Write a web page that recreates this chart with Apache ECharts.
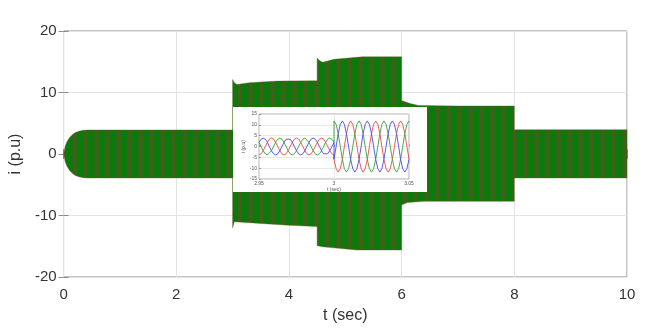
<!DOCTYPE html>
<html><head><meta charset="utf-8">
<script src="https://cdn.jsdelivr.net/npm/echarts@6/dist/echarts.min.js"></script>
<style>html,body{margin:0;padding:0;background:#fff}#c{width:648px;height:334px}</style>
</head><body><div id="c"></div>
<script>
// ---- Main plot: envelope of the dense three-phase current band
const upperTime = [0, 0.03, 0.06, 0.1, 0.15, 0.2, 0.27, 0.35, 0.42, 3.0, 3.0, 3.03, 3.08, 3.3, 3.8, 4.5, 4.5, 4.54, 4.6, 4.8, 5.3, 6.0, 6.0, 6.06, 6.15, 6.3, 7.0, 8.0, 8.0, 10.0];
const upperVal  = [0, 1.3, 2.0, 2.6, 3.1, 3.45, 3.7, 3.85, 3.9, 3.9, 12.1, 11.6, 11.3, 11.6, 11.85, 11.9, 15.6, 15.2, 14.9, 15.4, 15.8, 15.8, 8.7, 8.5, 8.2, 7.9, 7.8, 7.8, 3.95, 3.95];
const lowerTime = [0, 0.03, 0.06, 0.1, 0.15, 0.2, 0.27, 0.35, 0.42, 3.0, 3.0, 3.03, 3.5, 4.0, 4.5, 4.5, 4.6, 5.2, 6.0, 6.0, 6.1, 6.4, 8.0, 8.0, 10.0];
const lowerVal  = [0, -1.3, -2.0, -2.6, -3.1, -3.45, -3.7, -3.85, -3.9, -3.9, -12.0, -11.0, -11.3, -11.6, -11.8, -14.9, -15.1, -15.6, -15.6, -8.3, -7.9, -7.7, -7.7, -3.9, -3.9];
const xTicks = [0, 2, 4, 6, 8, 10];
const yTicks = [-20, -10, 0, 10, 20];

// ---- Inset: zoom on the step at t = 3 s
const insetTime = [2.95, 2.9514, 2.9528, 2.9542, 2.9556, 2.9569, 2.9583, 2.9597, 2.9611, 2.9625, 2.9639, 2.9653,
  2.9667, 2.9681, 2.9694, 2.9708, 2.9722, 2.9736, 2.975, 2.9764, 2.9778, 2.9792, 2.9806, 2.9819,
  2.9833, 2.9847, 2.9861, 2.9875, 2.9889, 2.9903, 2.9917, 2.9931, 2.9944, 2.9958, 2.9972, 2.9986, 3.0,
  3.0, 3.0014, 3.0028, 3.0042, 3.0056, 3.0069, 3.0083, 3.0097, 3.0111, 3.0125, 3.0139, 3.0153,
  3.0167, 3.0181, 3.0194, 3.0208, 3.0222, 3.0236, 3.025, 3.0264, 3.0278, 3.0292, 3.0306, 3.0319,
  3.0333, 3.0347, 3.0361, 3.0375, 3.0389, 3.0403, 3.0417, 3.0431, 3.0444, 3.0458, 3.0472, 3.0486, 3.05];
const insetRed = [-3.9, -3.38, -1.95, 0, 1.95, 3.38, 3.9, 3.38, 1.95, 0, -1.95, -3.38,
  -3.9, -3.38, -1.95, 0, 1.95, 3.38, 3.9, 3.38, 1.95, 0, -1.95, -3.38,
  -3.9, -3.38, -1.95, 0, 1.95, 3.38, 3.9, 3.38, 1.95, 0, -1.95, -3.38, -3.9,
  -5.9, -10.22, -11.8, -10.22, -5.9, 0, 5.9, 10.22, 11.8, 10.22, 5.9, 0,
  -5.9, -10.22, -11.8, -10.22, -5.9, 0, 5.9, 10.22, 11.8, 10.22, 5.9, 0,
  -5.9, -10.22, -11.8, -10.22, -5.9, 0, 5.9, 10.22, 11.8, 10.22, 5.9, 0, -5.9];
const insetGreen = [1.95, 0, -1.95, -3.38, -3.9, -3.38, -1.95, 0, 1.95, 3.38, 3.9, 3.38,
  1.95, 0, -1.95, -3.38, -3.9, -3.38, -1.95, 0, 1.95, 3.38, 3.9, 3.38,
  1.95, 0, -1.95, -3.38, -3.9, -3.38, -1.95, 0, 1.95, 3.38, 3.9, 3.38, 1.95,
  11.8, 10.22, 5.9, 0, -5.9, -10.22, -11.8, -10.22, -5.9, 0, 5.9, 10.22,
  11.8, 10.22, 5.9, 0, -5.9, -10.22, -11.8, -10.22, -5.9, 0, 5.9, 10.22,
  11.8, 10.22, 5.9, 0, -5.9, -10.22, -11.8, -10.22, -5.9, 0, 5.9, 10.22, 11.8];
const insetBlue = [1.95, 3.38, 3.9, 3.38, 1.95, 0, -1.95, -3.38, -3.9, -3.38, -1.95, 0,
  1.95, 3.38, 3.9, 3.38, 1.95, 0, -1.95, -3.38, -3.9, -3.38, -1.95, 0,
  1.95, 3.38, 3.9, 3.38, 1.95, 0, -1.95, -3.38, -3.9, -3.38, -1.95, 0, 1.95,
  -5.9, 0, 5.9, 10.22, 11.8, 10.22, 5.9, 0, -5.9, -10.22, -11.8, -10.22,
  -5.9, 0, 5.9, 10.22, 11.8, 10.22, 5.9, 0, -5.9, -10.22, -11.8, -10.22,
  -5.9, 0, 5.9, 10.22, 11.8, 10.22, 5.9, 0, -5.9, -10.22, -11.8, -10.22, -5.9];

const FONT = '"Liberation Sans", Arial, sans-serif';

// stripe pattern for the dense band (style only)
const pc = document.createElement('canvas');
pc.width = 11; pc.height = 4;
const g = pc.getContext('2d');
g.fillStyle = '#0b7a0b'; g.fillRect(0, 0, 11, 4);
g.fillStyle = '#246d12'; g.fillRect(6, 0, 1, 4); g.fillRect(10, 0, 1, 4);
g.fillStyle = '#3f6019'; g.fillRect(7, 0, 3, 4);
g.fillStyle = '#4d5a1d'; g.fillRect(8, 0, 1, 4);
const bandFill = { image: pc, repeat: 'repeat' };

const chart = echarts.init(document.getElementById('c'), null, { renderer: 'canvas' });
const zip = (a, b) => a.map((v, i) => [v, b[i]]);

chart.setOption({
  animation: false,
  backgroundColor: '#fff',
  grid: [
    { left: 63, right: 21, top: 31, bottom: 57, show: true, borderColor: '#8a8a8a', borderWidth: 1, z: 0 },
    { left: 259, top: 114, width: 150, height: 65, show: true, borderColor: '#9a9a9a', borderWidth: 0.8, z: 120 }
  ],
  graphic: { elements: [
    { type: 'rect', shape: { x: 233, y: 107, width: 194, height: 85 }, style: { fill: '#ffffff' }, z: 100 }
  ]},
  xAxis: [
    { gridIndex: 0, type: 'value', min: xTicks[0], max: xTicks[xTicks.length - 1], interval: 2,
      name: 't (sec)', nameLocation: 'middle', nameGap: 31,
      nameTextStyle: { fontFamily: FONT, fontSize: 16, color: '#333' },
      axisLine: { show: false }, axisTick: { inside: true, length: 5, lineStyle: { color: '#8a8a8a' } },
      axisLabel: { fontFamily: FONT, fontSize: 15, color: '#333', margin: 10 },
      splitLine: { show: true, lineStyle: { color: '#e3e3e3', width: 1 } } },
    { gridIndex: 0, type: 'value', position: 'top', min: 0, max: 10, interval: 2,
      axisLine: { show: false }, axisTick: { inside: true, length: 5, lineStyle: { color: '#8a8a8a' } },
      axisLabel: { show: false }, splitLine: { show: false } },
    { gridIndex: 1, type: 'value', min: 2.95, max: 3.05, interval: 0.05, z: 120,
      name: 't (sec)', nameLocation: 'middle', nameGap: 8,
      nameTextStyle: { fontFamily: FONT, fontSize: 5, color: '#555' },
      axisLine: { show: false }, axisTick: { inside: true, length: 2, lineStyle: { color: '#999' } },
      axisLabel: { fontFamily: FONT, fontSize: 5, color: '#555', margin: 2,
        formatter: v => String(parseFloat(v.toFixed(2))) },
      splitLine: { show: true, lineStyle: { color: '#e0e0e0', width: 0.7 } } }
  ],
  yAxis: [
    { gridIndex: 0, type: 'value', min: yTicks[0], max: yTicks[yTicks.length - 1], interval: 10,
      name: 'i (p.u)', nameLocation: 'middle', nameGap: 33,
      nameTextStyle: { fontFamily: FONT, fontSize: 16, color: '#333' },
      axisLine: { show: false }, axisTick: { inside: true, length: 5, lineStyle: { color: '#8a8a8a' } },
      axisLabel: { fontFamily: FONT, fontSize: 15, color: '#333', margin: 7 },
      splitLine: { show: true, lineStyle: { color: '#e3e3e3', width: 1 } } },
    { gridIndex: 0, type: 'value', position: 'right', min: -20, max: 20, interval: 10,
      axisLine: { show: false }, axisTick: { inside: true, length: 5, lineStyle: { color: '#8a8a8a' } },
      axisLabel: { show: false }, splitLine: { show: false } },
    { gridIndex: 1, type: 'value', min: -15, max: 15, interval: 5, z: 120,
      name: 'i (p.u)', nameLocation: 'middle', nameGap: 9,
      nameTextStyle: { fontFamily: FONT, fontSize: 5, color: '#555' },
      axisLine: { show: false }, axisTick: { inside: true, length: 2, lineStyle: { color: '#999' } },
      axisLabel: { fontFamily: FONT, fontSize: 5, color: '#555', margin: 2 },
      splitLine: { show: true, lineStyle: { color: '#e0e0e0', width: 0.7 } } }
  ],
  series: [
    { type: 'custom', xAxisIndex: 0, yAxisIndex: 0, z: 2, clip: true,
      data: [[0, 0]],
      renderItem: (params, api) => {
        const pts = [];
        for (let i = 0; i < upperTime.length; i++) pts.push(api.coord([upperTime[i], upperVal[i]]));
        for (let i = lowerTime.length - 1; i >= 0; i--) pts.push(api.coord([lowerTime[i], lowerVal[i]]));
        return { type: 'polygon', shape: { points: pts },
          style: { fill: bandFill, stroke: 'rgba(110,75,35,0.45)', lineWidth: 0.8 } };
      } },
    { type: 'line', xAxisIndex: 2, yAxisIndex: 2, z: 130, symbol: 'none', data: zip(insetTime, insetRed),
      lineStyle: { color: '#ec4a44', width: 0.9 } },
    { type: 'line', xAxisIndex: 2, yAxisIndex: 2, z: 130, symbol: 'none', data: zip(insetTime, insetGreen),
      lineStyle: { color: '#3a9e3a', width: 0.9 } },
    { type: 'line', xAxisIndex: 2, yAxisIndex: 2, z: 130, symbol: 'none', data: zip(insetTime, insetBlue),
      lineStyle: { color: '#4848e6', width: 0.9 } }
  ]
});
</script></body></html>
